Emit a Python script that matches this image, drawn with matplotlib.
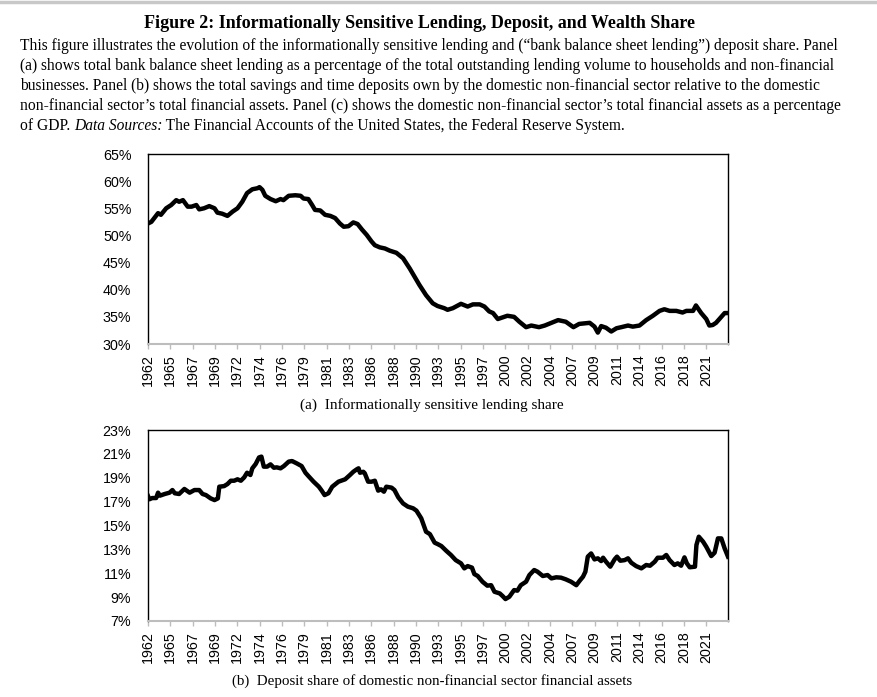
import matplotlib
matplotlib.use("Agg")
import matplotlib.pyplot as plt
from matplotlib.ticker import FuncFormatter

# panel (a): bank balance sheet lending share (%)
lending_years = [
    1962.75, 1963.1, 1963.8, 1964.1, 1964.65, 1965.17, 1965.7, 1966.0, 1966.4,
    1966.9, 1967.3, 1967.8, 1968.1, 1968.6, 1969.15, 1969.7, 1970.0, 1970.5,
    1971.05, 1971.6, 1972.1, 1972.6, 1973.1, 1973.65, 1974.2, 1974.4, 1974.7,
    1975.0, 1975.55, 1976.1, 1976.6, 1976.9, 1977.45, 1978.15, 1978.7, 1979.0,
    1979.5, 1979.9, 1980.2, 1980.75, 1981.25, 1981.8, 1982.3, 1982.8, 1983.2,
    1983.7, 1984.2, 1984.65, 1985.1, 1985.6, 1986.1, 1986.45, 1986.97, 1987.5,
    1988.0, 1988.7, 1989.4, 1990.1, 1990.6, 1991.1, 1991.8, 1992.5, 1993.0,
    1993.7, 1994.05, 1994.6, 1995.45, 1996.15, 1996.7, 1997.4, 1997.9, 1998.4,
    1998.8, 1999.3, 1999.8, 2000.3, 2001.0, 2001.55, 2002.25, 2002.8, 2003.6,
    2004.2, 2004.9, 2005.6, 2006.4, 2006.8, 2007.2, 2007.8, 2008.35, 2008.9,
    2009.4, 2009.75, 2010.1, 2010.6, 2011.15, 2011.7, 2012.2, 2012.9, 2013.4,
    2014.1, 2014.8, 2015.5, 2016.2, 2016.7, 2017.25, 2017.95, 2018.6, 2019.0,
    2019.7, 2020.0, 2020.55, 2021.08, 2021.4, 2021.75, 2022.1, 2022.65, 2023.0,
    2023.35,
]
lending_share = [
    52.2, 52.5, 54.1, 53.8, 55.0, 55.6, 56.5, 56.2, 56.5,
    55.3, 55.3, 55.6, 54.8, 55.0, 55.4, 55.0, 54.2, 54.0,
    53.6, 54.4, 55.0, 56.2, 57.8, 58.5, 58.7, 58.9, 58.4,
    57.3, 56.7, 56.3, 56.7, 56.5, 57.3, 57.4, 57.3, 56.8,
    56.7, 55.6, 54.7, 54.6, 53.8, 53.6, 53.2, 52.2, 51.6,
    51.7, 52.4, 52.1, 51.1, 50.1, 48.9, 48.2, 47.8, 47.6,
    47.2, 46.8, 45.8, 43.9, 42.4, 40.9, 39.0, 37.5, 37.0,
    36.6, 36.3, 36.6, 37.4, 36.9, 37.3, 37.3, 36.9, 36.0,
    35.7, 34.6, 34.9, 35.2, 35.0, 34.1, 33.1, 33.4, 33.1,
    33.4, 33.9, 34.4, 34.1, 33.6, 33.1, 33.7, 33.8, 33.9,
    33.2, 32.1, 33.3, 33.0, 32.3, 32.9, 33.1, 33.4, 33.2,
    33.4, 34.4, 35.2, 36.1, 36.4, 36.1, 36.1, 35.8, 36.1,
    36.1, 37.1, 35.7, 34.6, 33.4, 33.5, 33.9, 35.0, 35.7,
    35.7,
]

# panel (b): savings and time deposits / total financial assets (%)
deposit_years = [
    1962.75, 1962.9, 1963.2, 1963.6, 1963.8, 1964.0, 1964.5, 1965.0, 1965.3,
    1965.55, 1966.0, 1966.55, 1967.1, 1967.6, 1968.1, 1968.45, 1968.8, 1969.3,
    1969.7, 1970.05, 1970.2, 1970.7, 1971.05, 1971.4, 1971.75, 1972.1,
    1972.45, 1972.8, 1973.1, 1973.45, 1973.65, 1974.0, 1974.35, 1974.6,
    1974.85, 1975.2, 1975.55, 1975.9, 1976.2, 1976.6, 1976.95, 1977.45,
    1977.8, 1978.3, 1978.8, 1979.2, 1979.5, 1980.05, 1980.6, 1980.9, 1981.2,
    1981.6, 1982.0, 1982.65, 1983.35, 1983.85, 1984.2, 1984.55, 1984.75,
    1984.9, 1985.25, 1985.4, 1985.75, 1986.1, 1986.45, 1986.8, 1987.1,
    1987.4, 1987.65, 1988.2, 1988.5, 1988.9, 1989.4, 1989.9, 1990.45,
    1990.8, 1991.3, 1991.8, 1992.2, 1992.7, 1993.0, 1993.4, 1993.9, 1994.4,
    1994.9, 1995.45, 1995.8, 1996.15, 1996.6, 1996.85, 1997.2, 1997.7,
    1998.2, 1998.6, 1998.95, 1999.5, 1999.8, 2000.1, 2000.5, 2001.0, 2001.35,
    2001.7, 2002.25, 2002.6, 2003.1, 2003.45, 2004.0, 2004.5, 2004.9, 2005.4,
    2005.9, 2006.4, 2006.95, 2007.5, 2007.85, 2008.2, 2008.45, 2008.7,
    2009.05, 2009.4, 2009.75, 2010.1, 2010.3, 2010.6, 2011.05, 2011.5,
    2011.75, 2012.1, 2012.55, 2012.9, 2013.25, 2013.75, 2014.3, 2014.8,
    2015.2, 2015.7, 2016.0, 2016.55, 2016.9, 2017.25, 2017.75, 2018.1,
    2018.45, 2018.8, 2019.05, 2019.35, 2019.9, 2020.05, 2020.3, 2020.75,
    2021.08, 2021.6, 2021.95, 2022.3, 2022.65, 2023.0, 2023.35,
]
deposit_share = [
    17.47, 17.2, 17.3, 17.3, 17.75, 17.5, 17.64, 17.75, 17.97,
    17.7, 17.64, 18.06, 17.75, 17.97, 17.97, 17.64, 17.55, 17.27,
    17.13, 17.27, 18.25, 18.3, 18.47, 18.75, 18.75, 18.87,
    18.75, 19.03, 19.42, 19.23, 19.79, 20.15, 20.7, 20.77,
    19.93, 19.93, 20.12, 19.84, 19.87, 19.79, 19.98, 20.35,
    20.4, 20.2, 19.98, 19.42, 19.15, 18.67, 18.25, 17.92, 17.55,
    17.7, 18.25, 18.67, 18.87, 19.23, 19.5, 19.7, 19.79,
    19.42, 19.5, 19.37, 18.67, 18.67, 18.75, 17.92, 18.03,
    17.83, 18.25, 18.17, 17.97, 17.36, 16.85, 16.58, 16.44,
    16.24, 15.6, 14.48, 14.28, 13.56, 13.45, 13.28, 12.89, 12.53,
    12.1, 11.83, 11.41, 11.6, 11.47, 10.93, 10.77, 10.29,
    9.96, 10.0, 9.45, 9.31, 9.09, 8.84, 9.03, 9.59, 9.54,
    10.0, 10.29, 10.85, 11.27, 11.13, 10.77, 10.85, 10.57, 10.66,
    10.63, 10.49, 10.29, 10.0, 10.37, 10.71, 11.13, 12.39,
    12.66, 12.16, 12.25, 12.02, 12.3, 11.97, 11.55, 12.16,
    12.39, 12.05, 12.1, 12.25, 11.88, 11.6, 11.41, 11.69,
    11.63, 11.97, 12.3, 12.3, 12.53, 12.1, 11.69, 11.83,
    11.63, 12.33, 11.83, 11.5, 11.55, 13.36, 14.06, 13.64,
    13.22, 12.44, 12.72, 13.92, 13.92, 13.08, 12.39,
]

tick_labels = [
    "1962", "1965", "1967", "1969", "1972", "1974", "1976", "1979", "1981",
    "1983", "1986", "1988", "1990", "1993", "1995", "1997", "2000", "2002",
    "2004", "2007", "2009", "2011", "2014", "2016", "2018", "2021",
]

title = "Figure 2: Informationally Sensitive Lending, Deposit, and Wealth Share"
caption_lines = [
    "This figure illustrates the evolution of the informationally sensitive lending and (\u201cbank balance sheet lending\u201d) deposit share. Panel",
    "(a) shows total bank balance sheet lending as a percentage of the total outstanding lending volume to households and non-financial",
    "businesses. Panel (b) shows the total savings and time deposits own by the domestic non-financial sector relative to the domestic",
    "non-financial sector\u2019s total financial assets. Panel (c) shows the domestic non-financial sector\u2019s total financial assets as a percentage",
]
sub_a = "(a)  Informationally sensitive lending share"
sub_b = "(b)  Deposit share of domestic non-financial sector financial assets"

serif = "Liberation Serif"
sans = "Liberation Sans"
W, H = 877, 697
cap_fs = 11.2

fig = plt.figure(figsize=(8.77, 6.97), dpi=100)

# grey page edge at the very top of the screenshot
fig.add_artist(plt.Line2D([0, 1], [1 - 1.5 / H, 1 - 1.5 / H], color="#c8c8c8",
                          lw=2.5, transform=fig.transFigure))

fig.text(420 / W, 1 - 23.5 / H, title, family=serif, weight="bold",
         fontsize=13, ha="center", va="center")
y = 46.5
for line in caption_lines:
    fig.text(20 / W, 1 - y / H, line, family=serif, fontsize=cap_fs,
             ha="left", va="center")
    y += 19.8
t = fig.text(20 / W, 1 - y / H, "of GDP. ", family=serif, fontsize=cap_fs,
             ha="left", va="center")
fig.canvas.draw()
r = fig.canvas.get_renderer()
x1 = t.get_window_extent(r).x1
t2 = fig.text(x1 / W, 1 - y / H, "Data Sources:", family=serif, style="italic",
              fontsize=cap_fs, ha="left", va="center")
x2 = t2.get_window_extent(r).x1
fig.text(x2 / W, 1 - y / H,
         " The Financial Accounts of the United States, the Federal Reserve System.",
         family=serif, fontsize=cap_fs, ha="left", va="center")

x_start = 1962.75
x_end = 2023.35
step = 7 / 3
ticks = [x_start + i * step for i in range(len(tick_labels))]


def panel(rect, xs, ys, ylim, ystep, fmt):
    ax = fig.add_axes(rect)
    ax.plot(xs, ys, color="black", lw=3.2, solid_joinstyle="round")
    ax.set_xlim(x_start, x_end)
    ax.set_ylim(*ylim)
    yt = []
    v = ylim[0]
    while v <= ylim[1] + 1e-9:
        yt.append(v)
        v += ystep
    ax.set_yticks(yt)
    ax.yaxis.set_major_formatter(FuncFormatter(fmt))
    ax.set_xticks(ticks)
    ax.set_xticklabels(tick_labels, rotation=90)
    for lab in ax.get_xticklabels() + ax.get_yticklabels():
        lab.set_family(sans)
        lab.set_fontsize(10.3)
    ax.tick_params(axis="y", length=0, pad=12)
    ax.tick_params(axis="x", length=3.5, width=1, color="#bdbdbd", pad=4)
    for s in ["left", "top", "right"]:
        ax.spines[s].set_color("black")
        ax.spines[s].set_linewidth(1)
    ax.spines["bottom"].set_color("#bdbdbd")
    ax.spines["bottom"].set_linewidth(1.5)
    return ax


panel([148 / W, 1 - 344 / H, 580 / W, 190 / H], lending_years, lending_share,
      (30, 65), 5, lambda v, p: f"{v:.0f}%")
fig.text(432 / W, 1 - 405 / H, sub_a, family=serif, fontsize=11,
         ha="center", va="center")

panel([148 / W, 1 - 621 / H, 580 / W, 191 / H], deposit_years, deposit_share,
      (7, 23), 2, lambda v, p: f"{v:.0f}%")
fig.text(432.5 / W, 1 - 681 / H, sub_b, family=serif, fontsize=10.85,
         ha="center", va="center")

fig.savefig("out.png", dpi=100)
